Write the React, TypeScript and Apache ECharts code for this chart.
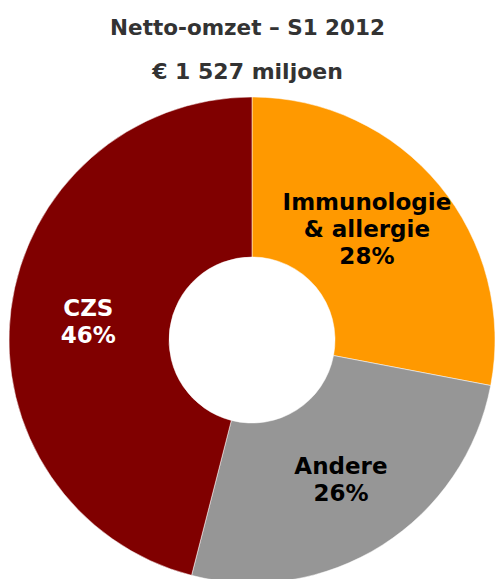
import React, { useEffect, useRef } from "react";
import * as echarts from "echarts";

const titleText = "Netto-omzet – S1 2012";
const subtitleText = "€ 1 527 miljoen";
const categories = ["Immunologie\n& allergie", "Andere", "CZS"];
const values = [28, 26, 46];
const colors = ["#FF9900", "#969696", "#800000"];
const labelColors = ["#000000", "#000000", "#FFFFFF"];
const labelOffsets = [[-13, -5], [0, -1], [1, 2]];

export default function App() {
  const ref = useRef<HTMLDivElement>(null);
  useEffect(() => {
    if (!ref.current) return;
    const chart = echarts.init(ref.current, null, { renderer: "svg" });
    const font = "'DejaVu Sans', Verdana, sans-serif";
    chart.setOption({
      animation: false,
      backgroundColor: "#ffffff",
      title: [
        {
          text: titleText,
          left: "center",
          top: 11,
          textStyle: { fontFamily: font, fontSize: 21.5, fontWeight: "bold", color: "#333333" },
        },
        {
          text: subtitleText,
          left: "center",
          top: 55,
          textStyle: { fontFamily: font, fontSize: 22, fontWeight: "bold", color: "#333333" },
        },
      ],
      series: [
        {
          type: "pie",
          center: [252, 340],
          radius: [83, 243],
          startAngle: 90,
          clockwise: true,
          silent: true,
          itemStyle: { borderColor: "#ffffff", borderWidth: 0.5 },
          label: {
            show: true,
            position: "inside",
            formatter: "{b}\n{c}%",
            fontFamily: font,
            fontSize: 23,
            fontWeight: "bold",
            lineHeight: 27,
            align: "center",
          },
          labelLine: { show: false },
          data: categories.map((name, i) => ({
            name,
            value: values[i],
            itemStyle: { color: colors[i] },
            label: { color: labelColors[i], offset: labelOffsets[i] },
          })),
        },
      ],
    });
    return () => chart.dispose();
  }, []);
  return (
    <div
      ref={ref}
      style={{ position: "fixed", left: 0, top: 0, width: 495, height: 579 }}
    />
  );
}
